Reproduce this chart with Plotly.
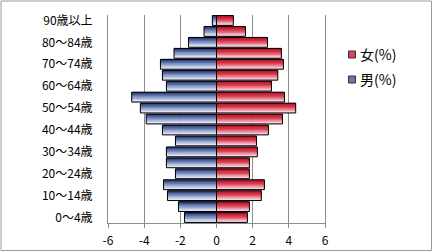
import plotly.graph_objects as go

# ---- data ----
age_labels = ["0～4歳", "5～9歳", "10～14歳", "15～19歳", "20～24歳", "25～29歳",
              "30～34歳", "35～39歳", "40～44歳", "45～49歳", "50～54歳", "55～59歳",
              "60～64歳", "65～69歳", "70～74歳", "75～79歳", "80～84歳", "85～89歳",
              "90歳以上"]
male = [-1.77, -2.10, -2.71, -2.93, -2.27, -2.77, -2.77, -2.27, -2.99, -3.89,
        -4.21, -4.69, -2.77, -2.99, -3.10, -2.35, -1.55, -0.69, -0.23]
female = [1.71, 1.82, 2.48, 2.65, 1.82, 1.82, 2.26, 2.21, 2.87, 3.65,
          4.38, 3.76, 3.04, 3.39, 3.70, 3.59, 2.82, 1.60, 0.93]
x_tickvals = [-6, -4, -2, 0, 2, 4, 6]
x_ticktext = ["-6", "-4", "-2", "0", "2", "4", "6"]
series_names = ["女(%)", "男(%)"]

# ---- layout constants ----
W, H = 433, 252
ml, mr, mt, mb = 108, 108, 15, 29
FONT = "Noto Sans CJK JP"
BAR_W = 0.9
N_STRIPS = 7

ypos = list(range(len(age_labels)))
pw = W - ml - mr
ph = H - mt - mb


def px_x(px):
    return (px - ml) / pw


def px_y(py):
    return (H - mb - py) / ph


def lerp(c1, c2, t):
    return "rgb(%d,%d,%d)" % tuple(round(a + (b - a) * t) for a, b in zip(c1, c2))


gradients = {
    "male": ((28, 45, 105), (120, 140, 190), (222, 228, 244)),
    "female": ((180, 10, 30), (220, 70, 90), (248, 205, 214)),
}


def grad_color(stops, t):
    if t < 0.5:
        return lerp(stops[0], stops[1], t / 0.5)
    return lerp(stops[1], stops[2], (t - 0.5) / 0.5)


fig = go.Figure()

for key, vals in (("male", male), ("female", female)):
    stops = gradients[key]
    sw = BAR_W / N_STRIPS
    for k in range(N_STRIPS):
        off = BAR_W / 2 - (k + 1) * sw
        width = min(sw + 0.05, BAR_W / 2 - off)
        t = k / (N_STRIPS - 1)
        fig.add_trace(go.Bar(
            x=vals, y=ypos, orientation="h",
            width=width, offset=off,
            marker=dict(color=grad_color(stops, t), line=dict(width=0)),
            showlegend=False, hoverinfo="skip"))
    fig.add_trace(go.Bar(
        x=vals, y=ypos, orientation="h", width=BAR_W,
        marker=dict(color="rgba(0,0,0,0)", line=dict(color="#000000", width=1)),
        showlegend=False, hoverinfo="skip"))

# custom legend (squares + text)
legend_items = [(series_names[0], "rgb(214,70,92)", 54.5),
                (series_names[1], "rgb(100,120,175)", 79.5)]
shapes = [dict(type="rect", xref="paper", yref="paper",
               x0=px_x(1), x1=px_x(W - 1.5), y0=px_y(H - 1.5), y1=px_y(1),
               line=dict(color="#9a9a9a", width=1), fillcolor="rgba(0,0,0,0)",
               layer="below")]
annotations = []
for name, col, cy in legend_items:
    shapes.append(dict(type="rect", xref="paper", yref="paper",
                       x0=px_x(348.5), x1=px_x(355.5), y0=px_y(cy + 3.5), y1=px_y(cy - 3.5),
                       line=dict(color="#333333", width=1), fillcolor=col))
    annotations.append(dict(xref="paper", yref="paper", x=px_x(358), y=px_y(cy - 0.5),
                            xanchor="left", yanchor="middle", showarrow=False,
                            text=name, font=dict(family=FONT, size=14, color="#000000")))

fig.update_layout(
    width=W, height=H,
    margin=dict(l=ml, r=mr, t=mt, b=mb, pad=0, autoexpand=False),
    paper_bgcolor="white", plot_bgcolor="white",
    barmode="overlay",
    font=dict(family=FONT, size=12, color="#000000"),
    showlegend=False,
    xaxis=dict(range=[-6, 6], tickvals=x_tickvals, ticktext=x_ticktext,
               showgrid=True, gridcolor="#8c8c8c", gridwidth=1,
               zeroline=True, zerolinecolor="#7a7a7a", zerolinewidth=1,
               showline=True, linecolor="#8c8c8c", linewidth=1,
               ticks="outside", ticklen=4, tickcolor="#8c8c8c",
               ticklabelstandoff=3, fixedrange=True, automargin=False,
               tickfont=dict(family=FONT, size=12, color="#000000")),
    yaxis=dict(range=[-0.5, len(age_labels) - 0.5],
               tickvals=ypos[::2], ticktext=age_labels[::2],
               showgrid=False, zeroline=False,
               showline=True, linecolor="#8c8c8c", linewidth=1, mirror=True,
               ticks="", ticklabelstandoff=12, fixedrange=True, automargin=False,
               tickfont=dict(family=FONT, size=12, color="#000000")),
    shapes=shapes,
    annotations=annotations,
)

fig.write_html("out.html")
